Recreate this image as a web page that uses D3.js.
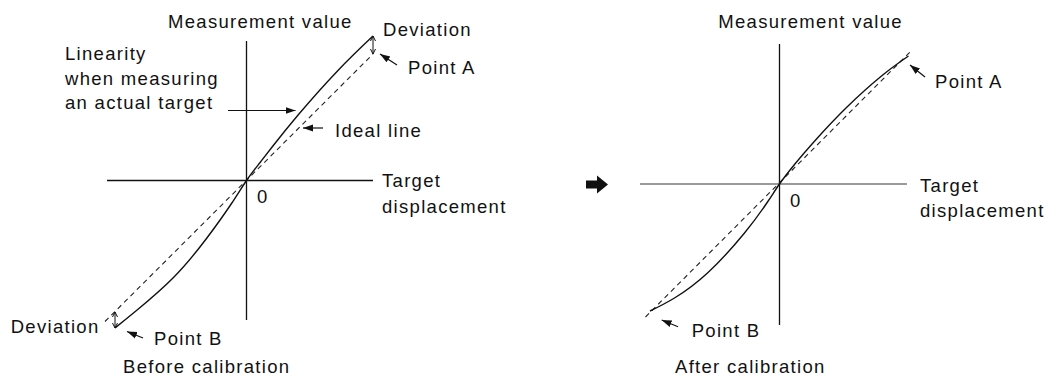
<!DOCTYPE html>
<html>
<head>
<meta charset="utf-8">
<script src="https://cdn.jsdelivr.net/npm/d3@7"></script>
<style>
  body { margin: 0; background: #fff; }
  text { font-family: "Liberation Sans", Arial, sans-serif; font-size: 18.5px; letter-spacing: 1.3px; fill: #111; }
</style>
</head>
<body>
<div id="chart"></div>
<script>
// measured curve before calibration (displacement, measured value)
var beforeX = [-131.5, -110, -73, -40, -15, 0, 13, 26, 52, 91, 126.5];
var beforeY = [-147.5, -130, -97, -58, -23, 0, 17.3, 34, 66, 109.6, 144.5];
// ideal line before calibration
var idealBeforeX = [-141.5, 126.5];
var idealBeforeY = [-141, 126.5];

// measured curve after calibration
var afterX = [-129.5, -105, -72, -35, -12, 0, 15, 37, 67, 102, 129];
var afterY = [-127, -114, -89, -49, -18, 0, 19.5, 45, 76.5, 108, 128];
// ideal line after calibration
var idealAfterX = [-134, 133];
var idealAfterY = [-133, 134.5];

var width = 1049, height = 376;

var svg = d3.select("#chart")
    .append("svg")
    .attr("width", width)
    .attr("height", height);

var defs = svg.append("defs");
defs.append("marker")
    .attr("id", "head")
    .attr("viewBox", "0 0 10 10")
    .attr("refX", 10).attr("refY", 5)
    .attr("markerWidth", 10).attr("markerHeight", 10)
    .attr("markerUnits", "userSpaceOnUse")
    .attr("orient", "auto")
    .append("path")
    .attr("d", "M0,1.5 L10,5 L0,8.5 Z")
    .attr("fill", "#111");

function zip(xs, ys) {
    return xs.map(function(x, i) { return [x, ys[i]]; });
}

function drawPanel(o) {
    var x = d3.scaleLinear().domain([0, 100]).range([o.ox, o.ox + 100]);
    var y = d3.scaleLinear().domain([0, 100]).range([o.oy, o.oy - 100]);
    var g = svg.append("g");

    // axes
    g.append("line")
        .attr("x1", x(o.xAxis[0])).attr("x2", x(o.xAxis[1]))
        .attr("y1", y(0)).attr("y2", y(0))
        .attr("stroke", o.hColor).attr("stroke-width", 1.3);
    g.append("line")
        .attr("x1", x(0)).attr("x2", x(0))
        .attr("y1", y(o.yAxis[0])).attr("y2", y(o.yAxis[1]))
        .attr("stroke", "#111").attr("stroke-width", 1.3);

    var line = d3.line()
        .x(function(d) { return x(d[0]); })
        .y(function(d) { return y(d[1]); });

    // ideal line (dashed)
    g.append("path")
        .attr("d", line(zip(o.idealX, o.idealY)))
        .attr("fill", "none")
        .attr("stroke", "#222")
        .attr("stroke-width", 1.1)
        .attr("stroke-dasharray", "5,4");

    // measured curve
    g.append("path")
        .attr("d", line.curve(d3.curveNatural)(zip(o.curveX, o.curveY)))
        .attr("fill", "none")
        .attr("stroke", "#111")
        .attr("stroke-width", 1.4);

    // deviation double arrows
    (o.deviations || []).forEach(function(d) {
        var px = x(d[0]), y1 = y(d[1]), y2 = y(d[2]);
        var dir = y2 > y1 ? 1 : -1;
        g.append("path")
            .attr("d", "M" + px + "," + y1 + "L" + px + "," + y2 +
                "M" + (px - 2.5) + "," + (y1 + dir * 5) + "L" + px + "," + y1 + "L" + (px + 2.5) + "," + (y1 + dir * 5) +
                "M" + (px - 2.5) + "," + (y2 - dir * 5) + "L" + px + "," + y2 + "L" + (px + 2.5) + "," + (y2 - dir * 5))
            .attr("fill", "none")
            .attr("stroke", "#111")
            .attr("stroke-width", 1);
    });

    // pointer arrows
    o.arrows.forEach(function(a) {
        g.append("line")
            .attr("x1", x(a[0])).attr("y1", y(a[1]))
            .attr("x2", x(a[2])).attr("y2", y(a[3]))
            .attr("stroke", "#111").attr("stroke-width", 1.2)
            .attr("marker-end", "url(#head)");
    });

    // labels
    g.selectAll("text.lbl")
        .data(o.labels)
        .enter()
        .append("text")
        .attr("class", "lbl")
        .attr("x", function(d) { return x(d[1]); })
        .attr("y", function(d) { return y(d[2]); })
        .text(function(d) { return d[0]; });
}

drawPanel({
    ox: 246.5, oy: 180.5, hColor: "#111",
    xAxis: [-139.5, 126.5], yAxis: [-139.5, 139.5],
    curveX: beforeX, curveY: beforeY,
    idealX: idealBeforeX, idealY: idealBeforeY,
    deviations: [[126.5, 144.5, 126.5], [-131.5, -131.5, -147.5]],
    arrows: [
        [150.5, 115.5, 133.5, 126.5],
        [-18.5, 70, 49, 70],
        [76.5, 52.5, 56.5, 52.5],
        [-103.5, -157.5, -119.5, -151]
    ],
    labels: [
        ["Measurement value", -78.5, 152.5],
        ["Deviation", 136.5, 144.5],
        ["Point A", 161.5, 106.5],
        ["Linearity", -181.5, 120.5],
        ["when measuring", -181.5, 95.5],
        ["an actual target", -181.5, 71.5],
        ["Ideal line", 88.5, 43.5],
        ["Target", 135.5, -6.5],
        ["displacement", 135.5, -32.5],
        ["0", 10.5, -22.5],
        ["Deviation", -235.8, -152.5],
        ["Point B", -92.5, -164.5],
        ["Before calibration", -123.5, -192]
    ]
});

drawPanel({
    ox: 779.5, oy: 184, hColor: "#777",
    xAxis: [-139.5, 127.5], yAxis: [-141, 140],
    curveX: afterX, curveY: afterY,
    idealX: idealAfterX, idealY: idealAfterY,
    deviations: [],
    arrows: [
        [145.5, 107, 130.5, 119],
        [-101.5, -142.7, -117.8, -136]
    ],
    labels: [
        ["Measurement value", -61.2, 156],
        ["Point A", 155.5, 96],
        ["Target", 140.5, -7.7],
        ["displacement", 140.5, -32.7],
        ["0", 10.5, -22.7],
        ["Point B", -87.8, -153],
        ["After calibration", -104.5, -188.5]
    ]
});

// big arrow between panels
svg.append("path")
    .attr("d", "M586,180.5 L597,180.5 L597,175.5 L608,184.5 L597,193.5 L597,188.5 L586,188.5 Z")
    .attr("fill", "#111");
</script>
</body>
</html>
